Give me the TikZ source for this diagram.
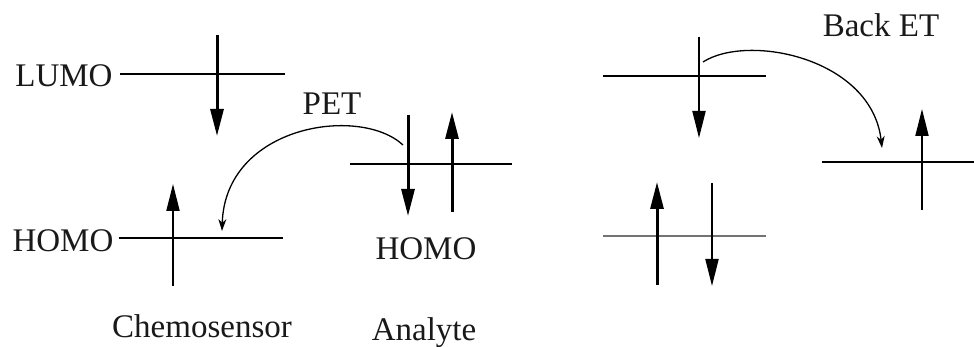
\documentclass[tikz,border=0pt]{standalone}
\usepackage{fontspec}
\setmainfont{Liberation Serif}
\usetikzlibrary{arrows.meta}
\tikzset{
  lbl/.style={inner sep=0pt, anchor=base, font=\fontsize{33}{40}\selectfont, text=black!90},
  level/.style={line width=1.4pt},
  spin/.style={-{Triangle[length=27pt,width=13pt]}, line width=2pt},
  spinthick/.style={spin, line width=3pt},
  transfer/.style={-{Stealth[length=12pt,width=8pt]}, line width=1.3pt},
}
\begin{document}
\begin{tikzpicture}[x=1pt,y=-1pt]
\useasboundingbox (0,0) rectangle (974,347);

% ---- chemosensor levels ----
\node[lbl] (lumoL) at (64,87) {LUMO};
\node[lbl] (homoL) at (63,252) {HOMO};
\coordinate (l1a) at (120,74);  \coordinate (l1b) at (285,74);
\coordinate (h1a) at (119,238); \coordinate (h1b) at (283,238);
\draw[level] (l1a) -- (l1b);
\draw[level] (h1a) -- (h1b);
% electrons
\coordinate (e1s) at (217,35);  \coordinate (e1e) at (217,136);
\coordinate (e2s) at (173,286); \coordinate (e2e) at (173,184);
\draw[spinthick] (e1s) -- (e1e);
\draw[spin] (e2s) -- (e2e);
\node[lbl] (chemo) at (202,337) {Chemosensor};

% ---- analyte level ----
\coordinate (h2a) at (350,164); \coordinate (h2b) at (512,164);
\draw[level] (h2a) -- (h2b);
\coordinate (e3s) at (408,115); \coordinate (e3e) at (408,216);
\coordinate (e4s) at (452,212); \coordinate (e4e) at (452,112);
\draw[spinthick] (e3s) -- (e3e);
\draw[spinthick] (e4s) -- (e4e);
\node[lbl] (homoA) at (426,260) {HOMO};
\node[lbl] (analyte) at (424,340) {Analyte};

% PET arrow
\coordinate (pet0) at (403,145);
\coordinate (pet1) at (222,231);
\draw[transfer] (pet0) .. controls (360,105) and (225,125) .. (pet1);
\node[lbl] (pet) at (332,115) {PET};

% ---- after electron transfer ----
\coordinate (r1a) at (603,76);  \coordinate (r1b) at (766,76);
\coordinate (r2a) at (603,236); \coordinate (r2b) at (766,236);
\coordinate (r3a) at (822,162); \coordinate (r3b) at (974,162);
\draw[level] (r1a) -- (r1b);
\draw[level, black!55] (r2a) -- (r2b);
\draw[level] (r3a) -- (r3b);
\coordinate (e5s) at (699,37);  \coordinate (e5e) at (699,138);
\coordinate (e6s) at (657,285); \coordinate (e6e) at (657,182);
\coordinate (e7s) at (712,183); \coordinate (e7e) at (712,286);
\coordinate (e8s) at (922,210); \coordinate (e8e) at (922,109);
\draw[spin] (e5s) -- (e5e);
\draw[spinthick] (e6s) -- (e6e);
\draw[spin] (e7s) -- (e7e);
\draw[spin] (e8s) -- (e8e);

% Back ET arrow
\coordinate (bet0) at (703,62);
\coordinate (bet1) at (882,148);
\draw[transfer] (bet0) .. controls (748,33) and (872,58) .. (bet1);
\node[lbl] (bet) at (881,37) {Back ET};
\end{tikzpicture}
\end{document}
